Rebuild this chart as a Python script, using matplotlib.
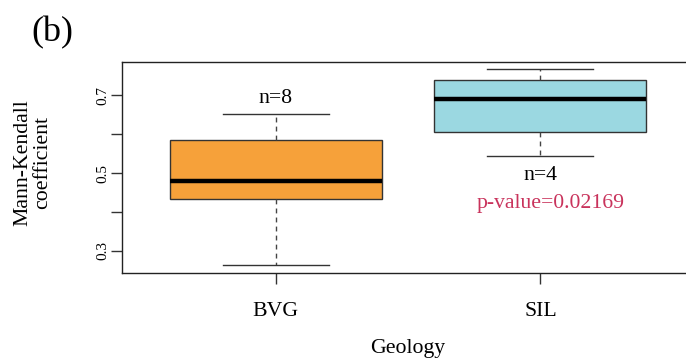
import matplotlib.pyplot as plt
from matplotlib.ticker import FixedLocator

plt.rcParams['font.family'] = ['Liberation Serif', 'DejaVu Serif']

groups = ["BVG", "SIL"]
whislo = [0.263, 0.544]
q1 = [0.433, 0.605]
med = [0.479, 0.691]
q3 = [0.586, 0.740]
whishi = [0.652, 0.767]
counts = [8, 4]
colors = ["#F6A13A", "#9BD8E1"]
p_value = "0.02169"

stats = []
for i, g in enumerate(groups):
    stats.append(dict(label=g, whislo=whislo[i], q1=q1[i], med=med[i],
                      q3=q3[i], whishi=whishi[i], fliers=[]))

fig = plt.figure(figsize=(6.86, 3.6), dpi=100)
ax = fig.add_axes([0.1778, 0.2425, 0.8339, 0.5861])

pos = list(range(1, len(groups) + 1))
bp = ax.bxp(stats, positions=pos, widths=0.8, patch_artist=True,
            showfliers=False,
            boxprops=dict(edgecolor="#333333", linewidth=1.0),
            medianprops=dict(color="black", linewidth=3.2, solid_capstyle="butt"),
            whiskerprops=dict(color="#444444", linewidth=1.0, linestyle=(0, (3.5, 3))),
            capprops=dict(color="#333333", linewidth=1.0),
            capwidths=0.4)
for patch, c in zip(bp["boxes"], colors):
    patch.set_facecolor(c)

ax.set_xlim(0.42, 2.58)
ax.set_ylim(0.243, 0.787)

ax.yaxis.set_major_locator(FixedLocator([0.3, 0.4, 0.5, 0.6, 0.7]))
ax.set_yticklabels(["0.3", "", "0.5", "", "0.7"], rotation=90, va="center", fontsize=11)
ax.set_xticks(pos)
ax.set_xticklabels(groups, fontsize=15.7)
ax.tick_params(axis="both", length=8, width=1, color="#333333")
ax.tick_params(axis="x", pad=13)
ax.tick_params(axis="y", pad=1)

for s in ax.spines.values():
    s.set_linewidth(1.0)
    s.set_color("#222222")

ax.set_xlabel("Geology", fontsize=15.7)
ax.set_ylabel("Mann-Kendall\ncoefficient", fontsize=15.7, linespacing=1.05)
ax.xaxis.set_label_coords(0.5, -0.314)
ax.yaxis.set_label_coords(-0.122, 0.52)

# sample sizes and test result
ax.text(pos[0], whishi[0] + 0.04, "n=%d" % counts[0], ha="center", va="center", fontsize=15.7)
ax.text(pos[1], whislo[1] - 0.05, "n=%d" % counts[1], ha="center", va="center", fontsize=15.7)
ax.text(pos[1] + 0.04, whislo[1] - 0.123, "p-value=" + p_value, ha="center", va="center",
        fontsize=15.7, color="#C9335C")

fig.text(0.0758, 0.908, "(b)", fontsize=26, ha="center", va="center")

fig.savefig("out.png", dpi=100)
